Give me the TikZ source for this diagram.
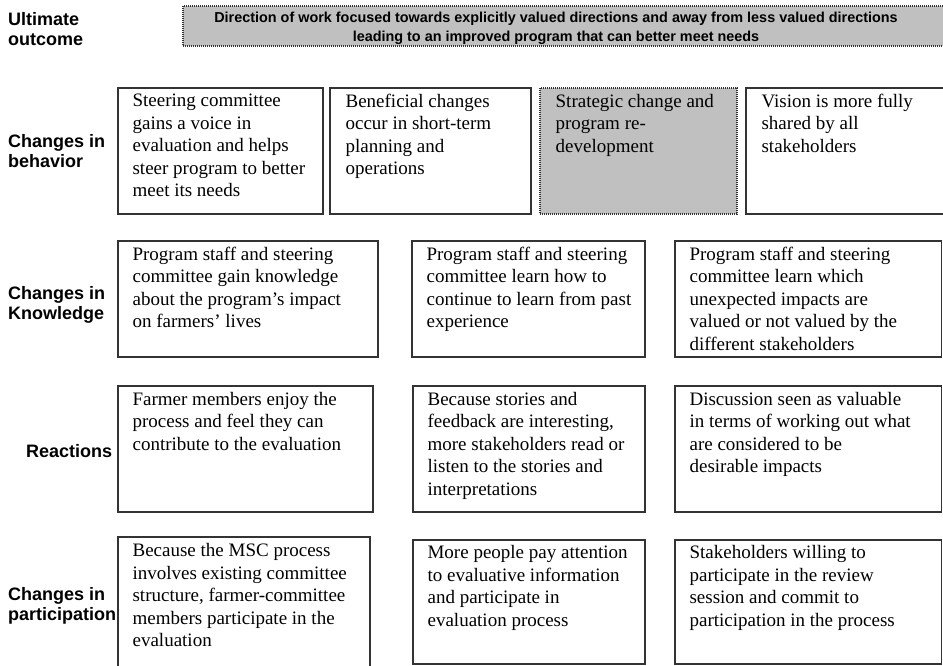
\documentclass[tikz,border=0pt]{standalone}
\usepackage{fontspec}
\setmainfont{Liberation Serif}
\newfontfamily\lblfont{Liberation Sans}
\usetikzlibrary{fit}
\definecolor{boxgray}{HTML}{C0C0C0}
\definecolor{edgegray}{HTML}{333333}
\begin{document}
\begin{tikzpicture}[x=1pt,y=-1pt,
  boxst/.style={draw=edgegray, line width=1.2pt, inner sep=0pt, fill=white},
  graybox/.style={draw=edgegray, line width=1.1pt, dash pattern=on 1pt off 1pt, inner sep=0pt, fill=boxgray},
  txt/.style={anchor=north west, inner sep=0pt, align=left, font=\fontsize{19}{22.5}\selectfont},
  lbl/.style={anchor=north west, inner sep=0pt, align=left, font=\lblfont\bfseries\fontsize{18}{20.5}\selectfont},
  toptxt/.style={inner sep=0pt, align=center, font=\lblfont\bfseries\fontsize{14.4}{19}\selectfont}]
\useasboundingbox (0,0) rectangle (943,665);
\clip (0,0) rectangle (943,665);

% ultimate outcome
\node[graybox, fit={(183,6) (946,46)}] (top) {};
\node[toptxt] (topt) at (556,28.5) {Direction of work focused towards explicitly valued directions and away from less valued directions\\leading to an improved program that can better meet needs};
\node[lbl] (l0) at (8,12) {Ultimate\\outcome};

% behavior
\node[lbl] (l1) at (8,134) {Changes in\\behavior};
\node[boxst, fit={(118,88) (323,214)}] (b1) {};
\node[txt] (b1t) at ([shift={(15,6.5)}]b1.north west) {Steering committee\\gains a voice in\\evaluation and helps\\steer program to better\\meet its needs};
\node[boxst, fit={(330,88) (531,214)}] (b2) {};
\node[txt] (b2t) at ([shift={(16,6.5)}]b2.north west) {Beneficial changes\\occur in short-term\\planning and\\operations};
\node[graybox, fit={(540,88) (737,214)}] (b3) {};
\node[txt] (b3t) at ([shift={(16,6.5)}]b3.north west) {Strategic change and\\program re-\\development};
\node[boxst, fit={(746,88) (948,214)}] (b4) {};
\node[txt] (b4t) at ([shift={(16,6.5)}]b4.north west) {Vision is more fully\\shared by all\\stakeholders};

% knowledge
\node[lbl] (l2) at (8,286) {Changes in\\Knowledge};
\node[boxst, fit={(118,241) (378,357)}] (k1) {};
\node[txt] (k1t) at ([shift={(15,6.5)}]k1.north west) {Program staff and steering\\committee gain knowledge\\about the program's impact\\on farmers' lives};
\node[boxst, fit={(412,241) (645,357)}] (k2) {};
\node[txt] (k2t) at ([shift={(15,6.5)}]k2.north west) {Program staff and steering\\committee learn how to\\continue to learn from past\\experience};
\node[boxst, fit={(675,241) (941.5,357)}] (k3) {};
\node[txt] (k3t) at ([shift={(15,6.5)}]k3.north west) {Program staff and steering\\committee learn which\\unexpected impacts are\\valued or not valued by the\\different stakeholders};

% reactions
\node[lbl] (l3) at (26,444) {Reactions};
\node[boxst, fit={(118,386) (373,512)}] (r1) {};
\node[txt] (r1t) at ([shift={(15,6.5)}]r1.north west) {Farmer members enjoy the\\process and feel they can\\contribute to the evaluation};
\node[boxst, fit={(413,386) (645,512)}] (r2) {};
\node[txt] (r2t) at ([shift={(15,6.5)}]r2.north west) {Because stories and\\feedback are interesting,\\more stakeholders read or\\listen to the stories and\\interpretations};
\node[boxst, fit={(675,386) (941.5,512)}] (r3) {};
\node[txt] (r3t) at ([shift={(15,6.5)}]r3.north west) {Discussion seen as valuable\\in terms of working out what\\are considered to be\\desirable impacts};

% participation
\node[lbl] (l4) at (8,587) {Changes in\\participation};
\node[boxst, fit={(118,537) (370,672)}] (p1) {};
\node[txt] (p1t) at ([shift={(15,7)}]p1.north west) {Because the MSC process\\involves existing committee\\structure, farmer-committee\\members participate in the\\evaluation};
\node[boxst, fit={(413,540) (645,664)}] (p2) {};
\node[txt] (p2t) at ([shift={(15,6)}]p2.north west) {More people pay attention\\to evaluative information\\and participate in\\evaluation process};
\node[boxst, fit={(675,540) (941.5,664)}] (p3) {};
\node[txt] (p3t) at ([shift={(15,6)}]p3.north west) {Stakeholders willing to\\participate in the review\\session and commit to\\participation in the process};
\end{tikzpicture}
\end{document}
